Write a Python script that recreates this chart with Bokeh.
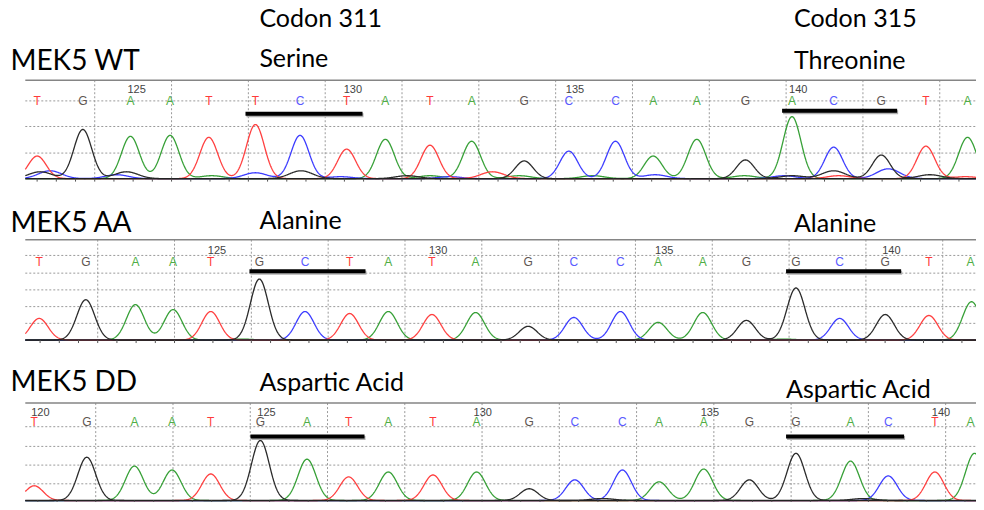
import numpy as np
from bokeh.plotting import figure
from bokeh.models import Range1d
from bokeh.core.properties import value
from bokeh.embed import file_html
from bokeh.resources import INLINE

# ---------------- data ----------------
TITLES = ["MEK5 WT", "MEK5 AA", "MEK5 DD"]
LEFT_NOTES = [["Codon 311", "Serine"], ["Alanine"], ["Aspartic Acid"]]
RIGHT_NOTES = [["Codon 315", "Threonine"], ["Alanine"], ["Aspartic Acid"]]

WT_BASES = list("TGAATTCTATAGCCAAGACGTA")
WT_FIRST = 123
WT_POS = [37, 83, 131, 171, 210, 257, 302, 349, 388, 433, 475, 528, 573, 620, 658, 702, 751, 798, 840, 888, 933, 975]
WT_HEIGHT = [23, 50, 43, 44, 42, 55, 44, 30, 40, 34, 38, 18, 28, 38, 23, 40, 19, 63, 32, 24, 33, 42]
WT_MINOR_POS = [40, 50, 117, 127, 213, 257, 303, 343, 410, 433, 453, 496, 523, 597, 660, 750, 790, 798, 840, 845, 895, 937, 973]
WT_MINOR_BASE = list("GCCGACGCGACTAACACGGTCGT")
WT_MINOR_HEIGHT = [7, 8, 4, 7, 3, 6, 8, 2, 3, 3, 2, 7, 3, 3, 4, 3, 3, 3, 8, 3, 10, 4, 2]

AA_BASES = list("TGAATGCTATAGCCAAGGCGTA")
AA_FIRST = 121
AA_POS = [39, 86, 136, 174, 212, 261, 307, 352, 391, 435, 479, 532, 578, 625, 663, 708, 752, 802, 846, 892, 936, 979]
AA_HEIGHT = [22, 41, 36, 31, 29, 62, 29, 27, 29, 26, 28, 14, 23, 29, 18, 28, 20, 53, 22, 26, 25, 39]
AA_MINOR_POS = [243, 790]
AA_MINOR_BASE = list("AA")
AA_MINOR_HEIGHT = [1, 1]

DD_BASES = list("TGAATGATATAGCCAAGGACTA")
DD_FIRST = 120
DD_POS = [34, 87, 135, 173, 212, 262, 309, 351, 391, 436, 480, 533, 579, 627, 664, 709, 755, 802, 857, 895, 942, 982]
DD_HEIGHT = [15, 44, 35, 31, 27, 61, 42, 24, 29, 26, 29, 12, 21, 31, 19, 32, 21, 48, 40, 25, 29, 48]
DD_MINOR_POS = [607, 870]
DD_MINOR_BASE = list("GG")
DD_MINOR_HEIGHT = [2, 2]

CODON_LEFT = [(128, 130), (126, 128), (125, 127)]
CODON_RIGHT = [(140, 142), (138, 140), (137, 139)]

# ---------------- styling / layout ----------------
TRACE_COLORS = {"A": "#37a037", "C": "#3c3cff", "G": "#2b2b2b", "T": "#ff4040"}
LABEL_COLORS = {"A": "#4fae45", "C": "#5a5aff", "G": "#5e5550", "T": "#ff3b3b"}
TITLE_FONT = "Lato"
SEQ_FONT = "Liberation Sans"
LIFT = 0.4  # em fraction used to place text baselines

PANELS = [
    dict(bases=WT_BASES, first=WT_FIRST, pos=WT_POS, h=WT_HEIGHT,
         mpos=WT_MINOR_POS, mbase=WT_MINOR_BASE, mh=WT_MINOR_HEIGHT,
         top=81, base=181, hgrid=[102, 128, 155], vgrid0=95, vstep=77.45,
         letter_y=107, num_y=94, bar_y=(115, 112), title_y=71,
         left_y=[27, 67], right_y=[27, 69]),
    dict(bases=AA_BASES, first=AA_FIRST, pos=AA_POS, h=AA_HEIGHT,
         mpos=AA_MINOR_POS, mbase=AA_MINOR_BASE, mh=AA_MINOR_HEIGHT,
         top=243, base=345, hgrid=[259, 277, 294, 311, 328], vgrid0=98, vstep=77.45,
         letter_y=270, num_y=258, bar_y=(275, 275), title_y=235,
         left_y=[232], right_y=[235]),
    dict(bases=DD_BASES, first=DD_FIRST, pos=DD_POS, h=DD_HEIGHT,
         mpos=DD_MINOR_POS, mbase=DD_MINOR_BASE, mh=DD_MINOR_HEIGHT,
         top=409, base=508, hgrid=[433, 453, 472, 491], vgrid0=96, vstep=77.9,
         letter_y=433, num_y=422, bar_y=(443, 443), title_y=397,
         left_y=[397], right_y=[404]),
]

X0, X1 = 25, 984
SIGMA = 9.0

p = figure(width=976, height=502, x_range=Range1d(0, 984), y_range=Range1d(510, 0),
           output_backend="svg", toolbar_location=None,
           x_axis_location=None, y_axis_location=None, min_border=0)
p.grid.visible = False
p.outline_line_color = None
p.background_fill_color = "white"

xs = np.arange(X0, X1 + 0.5, 0.5)


def ty(y, size):
    return [v - LIFT * size for v in y]


for i, P in enumerate(PANELS):
    base = P["base"]
    # dotted grid
    vx = [P["vgrid0"] + k * P["vstep"] for k in range(-1, 14)]
    vx = [v for v in vx if X0 < v < X1]
    p.segment(x0=vx, y0=[P["top"]] * len(vx), x1=vx, y1=[base] * len(vx),
              line_color="#9a9a9a", line_dash="2 2", line_width=1)
    p.segment(x0=[X0] * len(P["hgrid"]), y0=P["hgrid"], x1=[X1] * len(P["hgrid"]), y1=P["hgrid"],
              line_color="#9a9a9a", line_dash="2 2", line_width=1)
    p.segment(x0=[X0], y0=[P["top"]], x1=[X1], y1=[P["top"]], line_color="#858585", line_width=1.5)

    # traces: one curve per channel, peaks as gaussians
    for ch in ["A", "C", "T", "G"]:
        y = np.zeros_like(xs)
        for b, x, h in zip(P["bases"], P["pos"], P["h"]):
            if b == ch:
                y += h * np.exp(-((xs - x) ** 2) / (2 * SIGMA ** 2))
        for b, x, h in zip(P["mbase"], P["mpos"], P["mh"]):
            if b == ch:
                y += h * np.exp(-((xs - x) ** 2) / (2 * (SIGMA * 1.3) ** 2))
        p.line(xs, base - y, line_color=TRACE_COLORS[ch], line_width=1.3)

    # baseline with small ticks
    p.segment(x0=[X0], y0=[base], x1=[X1], y1=[base], line_color="#222222", line_width=1.5)
    tx = [P["vgrid0"] + k * P["vstep"] / 4 for k in range(-4, 60)]
    tx = [t for t in tx if X0 < t < X1]
    p.segment(x0=tx, y0=[base] * len(tx), x1=tx, y1=[base + 3] * len(tx),
              line_color="#555555", line_width=1)

    # base letters (kept inside the right edge)
    lx = [min(x, X1 - 6) for x in P["pos"]]
    p.text(x=lx, y=ty([P["letter_y"]] * len(P["pos"]), 12), text=P["bases"],
           text_color=[LABEL_COLORS[b] for b in P["bases"]],
           text_font=value(SEQ_FONT), text_font_size="12px",
           text_align="center", text_baseline="alphabetic")
    nums = [(x, str(P["first"] + k)) for k, x in enumerate(P["pos"]) if (P["first"] + k) % 5 == 0]
    p.text(x=[n[0] for n in nums], y=ty([P["num_y"]] * len(nums), 11), text=[n[1] for n in nums],
           x_offset=-3, text_color="#444444", text_font=value(SEQ_FONT), text_font_size="11px",
           text_align="left", text_baseline="alphabetic")

    # codon bars
    for (c0, c1), by in zip([CODON_LEFT[i], CODON_RIGHT[i]], P["bar_y"]):
        xa = P["pos"][c0 - P["first"]] - 10
        xb = P["pos"][c1 - P["first"]] + 16
        p.segment(x0=[xa + 1], y0=[by + 1.5], x1=[xb + 1], y1=[by + 1.5],
                  line_color="#b0b0b0", line_width=4)
        p.segment(x0=[xa], y0=[by], x1=[xb], y1=[by], line_color="black", line_width=4)

    # texts
    p.text(x=[10], y=ty([P["title_y"]], 28), text=[TITLES[i]], text_font=value(TITLE_FONT),
           text_font_size="28px", text_color="black", text_baseline="alphabetic")
    p.text(x=[261] * len(LEFT_NOTES[i]), y=ty(P["left_y"], 25), text=LEFT_NOTES[i],
           text_font=value(TITLE_FONT), text_font_size="25px", text_color="black",
           text_baseline="alphabetic")
    rx = 800 if i < 2 else 792
    p.text(x=[rx] * len(RIGHT_NOTES[i]), y=ty(P["right_y"], 25), text=RIGHT_NOTES[i],
           text_font=value(TITLE_FONT), text_font_size="25px", text_color="black",
           text_baseline="alphabetic")

open("out.html", "w").write(file_html(p, INLINE))
